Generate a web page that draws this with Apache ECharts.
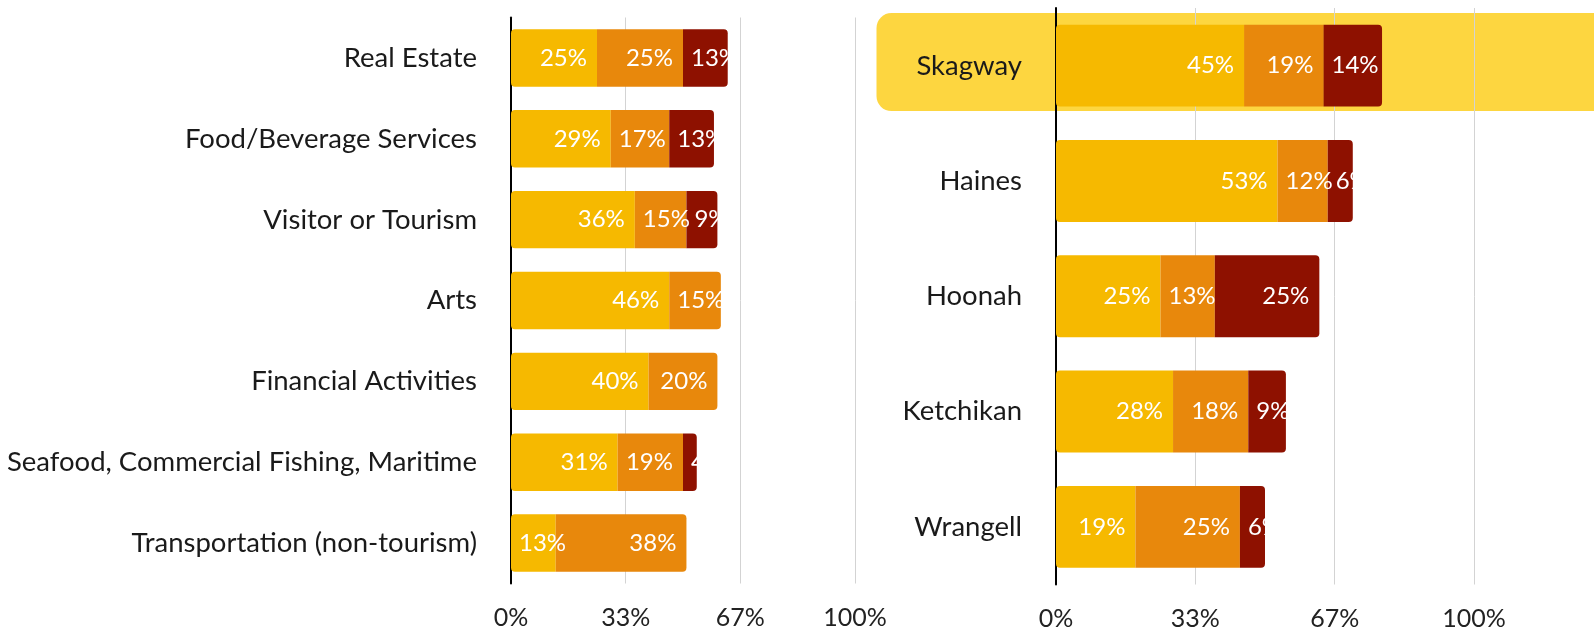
<!DOCTYPE html>
<html>
<head>
<meta charset="utf-8">
<title>Shares by industry and community</title>
<script src="https://cdn.jsdelivr.net/npm/echarts@6/dist/echarts.min.js"></script>
<style>
  html, body { margin: 0; padding: 0; background: #fff; }
  #chart { width: 1594px; height: 634px; }
</style>
</head>
<body>
<div id="chart"></div>
<script>
// left panel: industries
const industries = [
  "Real Estate",
  "Food/Beverage Services",
  "Visitor or Tourism",
  "Arts",
  "Financial Activities",
  "Seafood, Commercial Fishing, Maritime",
  "Transportation (non-tourism)"
];
const industryFirst = [25, 29, 36, 46, 40, 31, 13];
const industrySecond = [25, 17, 15, 15, 20, 19, 38];
const industryThird = [13, 13, 9, null, null, 4, null];

// right panel: communities
const towns = ["Skagway", "Haines", "Hoonah", "Ketchikan", "Wrangell"];
const townFirst = [45, 53, 25, 28, 19];
const townSecond = [19, 12, 13, 18, 25];
const townThird = [14, 6, 25, 9, 6];
const highlightTown = "Skagway";

const tickStep = 100 / 3; // ticks read 0%, 33%, 67%, 100%

const colors = ["#F6B900", "#E8880C", "#8E1100"];
const FONT = "Lato";
const LABEL_SIZE = 24;

const leftGrid = { left: 511, top: 17.5, width: 344, height: 566 };
const rightGrid = { left: 1056, top: 8, width: 418, height: 576.5 };

const ctx = document.createElement("canvas").getContext("2d");
function textWidth(s) {
  ctx.font = LABEL_SIZE + "px " + FONT;
  return ctx.measureText(s).width;
}

// builds the three stacked series of one panel
function buildSeries(parts, grid, axisIndex, stackName) {
  const pxPerUnit = grid.width / 100;
  return parts.map((values, k) => ({
    type: "bar",
    stack: stackName,
    xAxisIndex: axisIndex,
    yAxisIndex: axisIndex,
    barWidth: "71%",
    itemStyle: { color: colors[k] },
    label: {
      show: true,
      color: "#fff",
      fontFamily: FONT,
      fontSize: LABEL_SIZE,
      formatter: "{c}%"
    },
    data: values.map((v, i) => {
      if (v == null) return "-";
      let last = 0;
      parts.forEach((p, j) => { if (p[i] != null) last = j; });
      const rl = k === 0 ? 4 : 0;
      const rr = k === last ? 4 : 0;
      const w = v * pxPerUnit;
      const fits = w - 10 - textWidth(v + "%") >= 8;
      return {
        value: v,
        itemStyle: { borderRadius: [rl, rr, rr, rl] },
        label: fits
          ? { position: "insideRight", distance: 10 }
          : { position: "insideLeft", distance: 8 }
      };
    })
  }));
}

function valueAxis(gridIndex) {
  return {
    type: "value",
    gridIndex: gridIndex,
    min: 0,
    max: 100,
    interval: tickStep,
    axisLine: { show: false },
    axisTick: { show: false },
    splitLine: { lineStyle: { color: "#d3d3d3", width: 1 } },
    axisLabel: {
      formatter: v => Math.round(v) + "%",
      fontFamily: FONT,
      fontSize: 25,
      color: "#222",
      margin: 22
    }
  };
}

function categoryAxis(gridIndex, data) {
  return {
    type: "category",
    gridIndex: gridIndex,
    data: data,
    inverse: true,
    axisLine: { show: true, lineStyle: { color: "#000", width: 2 } },
    axisTick: { show: false },
    axisLabel: {
      fontFamily: FONT,
      fontSize: 27.5,
      color: "#1a1a1a",
      margin: 34
    }
  };
}

const chart = echarts.init(document.getElementById("chart"));

chart.setOption({
  animation: false,
  grid: [
    Object.assign({ outerBoundsMode: "none" }, leftGrid),
    Object.assign({ outerBoundsMode: "none" }, rightGrid)
  ],
  xAxis: [valueAxis(0), valueAxis(1)],
  yAxis: [categoryAxis(0, industries), categoryAxis(1, towns)],
  series: [
    ...buildSeries([industryFirst, industrySecond, industryThird], leftGrid, 0, "industry"),
    ...buildSeries([townFirst, townSecond, townThird], rightGrid, 1, "town")
  ]
});

// highlight band behind the selected community
const band = rightGrid.height / towns.length;
const hy = chart.convertToPixel({ yAxisIndex: 1 }, highlightTown);
const hx = rightGrid.left - 179.5;
chart.setOption({
  graphic: [{
    type: "rect",
    z: -10,
    silent: true,
    shape: {
      x: hx,
      y: hy - band * 0.456,
      width: chart.getWidth() - hx + 20,
      height: band * 0.85,
      r: [15, 0, 0, 15]
    },
    style: { fill: "#FDD640" }
  }]
});

window.addEventListener("resize", () => chart.resize());
</script>
</body>
</html>
